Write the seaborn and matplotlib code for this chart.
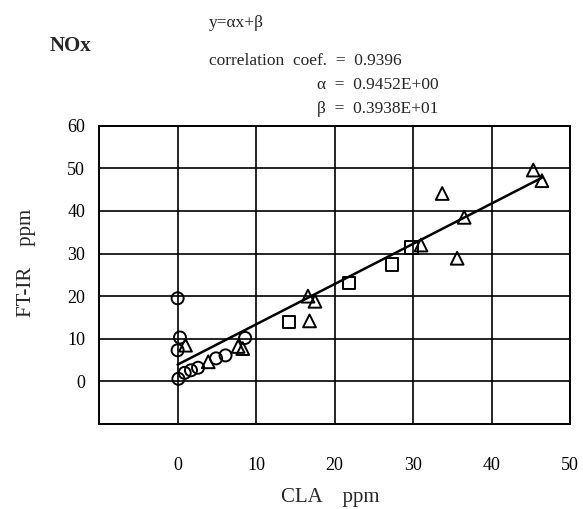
import matplotlib
matplotlib.use("Agg")
import matplotlib.pyplot as plt
import seaborn as sns
import pandas as pd

# Measured concentrations (CLA vs FT-IR), grouped by test series
circle_x = [0.0, 0.3, 0.0, 0.1, 0.9, 1.7, 2.6, 4.9, 6.1, 8.6]
circle_y = [19.5, 10.3, 7.3, 0.6, 2.0, 2.6, 3.2, 5.4, 6.1, 10.2]

square_x = [14.2, 21.8, 27.3, 29.8]
square_y = [13.9, 23.1, 27.4, 31.4]

triangle_x = [1.0, 3.9, 7.7, 8.3, 16.6, 17.5, 16.8, 31.0, 33.7, 35.6, 36.5, 45.3, 46.4]
triangle_y = [8.5, 4.6, 8.2, 7.7, 20.0, 18.8, 14.2, 32.0, 44.1, 28.9, 38.5, 49.6, 47.1]

# Least-squares fit reported on the chart
corr_coef = 0.9396
alpha = 0.9452
beta = 3.938

x_ticks = [0, 10, 20, 30, 40, 50]
y_ticks = [0, 10, 20, 30, 40, 50, 60]

df = pd.concat([
    pd.DataFrame({"CLA": circle_x, "FTIR": circle_y, "series": "circle"}),
    pd.DataFrame({"CLA": square_x, "FTIR": square_y, "series": "square"}),
    pd.DataFrame({"CLA": triangle_x, "FTIR": triangle_y, "series": "triangle"}),
], ignore_index=True)

fit_x = [0.0, max(df["CLA"])]
fit = pd.DataFrame({"CLA": fit_x, "FTIR": [alpha * v + beta for v in fit_x]})

sns.set_style("white")
plt.rcParams["font.family"] = ["Liberation Serif", "DejaVu Serif"]

fig = plt.figure(figsize=(5.83, 5.09), dpi=100)
ax = fig.add_axes([0.170, 0.167, 0.808, 0.586])

markers = {"circle": "o", "square": "s", "triangle": "^"}
sizes = {"circle": 75, "square": 80, "triangle": 85}
for name, grp in df.groupby("series"):
    sns.scatterplot(data=grp, x="CLA", y="FTIR", marker=markers[name],
                    s=sizes[name], facecolor="none", edgecolor="black",
                    linewidth=1.4, ax=ax, zorder=3, legend=False)

sns.lineplot(data=fit, x="CLA", y="FTIR", color="black", linewidth=1.8,
             ax=ax, zorder=2, legend=False)

ax.set_xlim(-10, 50)
ax.set_ylim(-10, 60)
ax.set_xticks(x_ticks)
ax.set_yticks(y_ticks)
ax.set_xticklabels([str(t) for t in x_ticks])
ax.set_yticklabels([str(t) for t in y_ticks])
ax.tick_params(axis="both", length=0, labelsize=13, colors="black")
ax.tick_params(axis="x", pad=24)
ax.tick_params(axis="y", pad=10)
ax.grid(True, color="black", linewidth=1.2)
for sp in ax.spines.values():
    sp.set_visible(True)
    sp.set_color("black")
    sp.set_linewidth(1.4)

ax.set_xlabel("CLA    ppm", fontsize=15)
ax.xaxis.set_label_coords(0.49, -0.215)
ax.set_ylabel("FT-IR    ppm", fontsize=15)
ax.yaxis.set_label_coords(-0.135, 0.54)

fig.text(0.085, 0.910, "NOx", fontsize=15, fontweight="bold", va="center")
fig.text(0.358, 0.955, "y=αx+β", fontsize=12.5, va="center")
fig.text(0.358, 0.880, "correlation  coef.  =  %.4f" % corr_coef, fontsize=12.5, va="center")
fig.text(0.543, 0.833, "α  =  %.4fE+00" % alpha, fontsize=12.5, va="center")
fig.text(0.543, 0.786, "β  =  %.4fE+01" % (beta / 10), fontsize=12.5, va="center")

fig.savefig("out.png", dpi=100)
